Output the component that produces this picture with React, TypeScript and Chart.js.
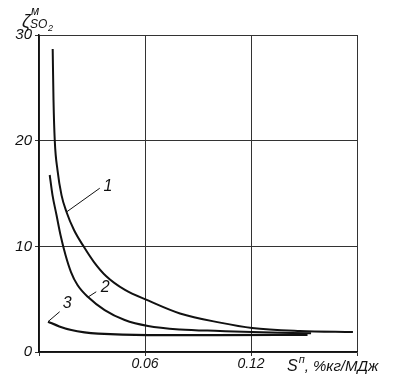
import React, { useEffect, useRef } from 'react';
import { Chart, registerables } from 'chart.js';

Chart.register(...registerables);

// Curve 1
const curve1X = [0.00775, 0.00821, 0.00894, 0.01047, 0.01274, 0.01557, 0.01981, 0.02547, 0.03113, 0.03792, 0.04868, 0.0617, 0.0798, 0.1025, 0.1206, 0.1477, 0.1777];
const curve1Y = [28.67, 23.84, 19.96, 17.22, 14.85, 13.25, 11.54, 9.93, 8.51, 7.19, 5.87, 4.88, 3.65, 2.78, 2.27, 1.99, 1.89];
// Curve 2
const curve2X = [0.00606, 0.00764, 0.00991, 0.01217, 0.015, 0.01811, 0.02179, 0.02774, 0.03719, 0.04851, 0.0617, 0.0798, 0.1025, 0.1206, 0.154];
const curve2Y = [16.75, 14.85, 12.96, 11.07, 9.18, 7.57, 6.34, 5.2, 3.97, 3.03, 2.46, 2.13, 1.99, 1.89, 1.77];
// Curve 3
const curve3X = [0.0051, 0.0115, 0.0183, 0.0258, 0.0334, 0.0617, 0.1, 0.152];
const curve3Y = [2.87, 2.42, 2.08, 1.86, 1.74, 1.6, 1.6, 1.62];

// Axis ticks
const xTickLabels = ['0.06', '0.12'];
const yTickValues = [0, 10, 20, 30];

// Curve labels: text, leader start (on curve), leader end, text position
const curveLabels = ['1', '2', '3'];
const leaderStartX = [0.01557, 0.02774, 0.0051];
const leaderStartY = [13.25, 5.2, 2.87];
const leaderEndX = [0.0344, 0.0324, 0.0117];
const leaderEndY = [15.5, 5.7, 3.81];
const labelPosX = [0.039, 0.0375, 0.016];
const labelPosY = [15.7, 6.1, 4.6];

const FONT = '"Liberation Sans", "DejaVu Sans", sans-serif';

const pts = (xs: number[], ys: number[]) => xs.map((x, i) => ({ x, y: ys[i] }));

const overlay = {
  id: 'overlay',
  afterDatasetsDraw(chart: any) {
    const ctx = chart.ctx;
    const xs = chart.scales.x;
    const ys = chart.scales.y;
    ctx.save();
    ctx.strokeStyle = '#111';
    ctx.fillStyle = '#111';
    ctx.lineWidth = 1;
    for (let i = 0; i < curveLabels.length; i++) {
      ctx.beginPath();
      ctx.moveTo(xs.getPixelForValue(leaderStartX[i]), ys.getPixelForValue(leaderStartY[i]));
      ctx.lineTo(xs.getPixelForValue(leaderEndX[i]), ys.getPixelForValue(leaderEndY[i]));
      ctx.stroke();
      ctx.font = `italic 16px ${FONT}`;
      ctx.textAlign = 'center';
      ctx.textBaseline = 'middle';
      ctx.fillText(curveLabels[i], xs.getPixelForValue(labelPosX[i]), ys.getPixelForValue(labelPosY[i]));
    }
    // x-axis title
    ctx.font = `italic 16px ${FONT}`;
    ctx.textAlign = 'left';
    ctx.textBaseline = 'middle';
    const bx = xs.getPixelForValue(0.12) + 36;
    const by = chart.chartArea.bottom + 14;
    ctx.fillText('S', bx, by + 1);
    const sw = ctx.measureText('S').width;
    ctx.font = `italic 11px ${FONT}`;
    ctx.fillText('п', bx + sw + 1, by - 6);
    ctx.font = `italic 15px ${FONT}`;
    ctx.fillText(', %кг/МДж', bx + sw + 7, by + 1);
    // y-axis title
    const lx = chart.chartArea.left - 17;
    const ty = chart.chartArea.top - 13;
    ctx.font = `italic 18px ${FONT}`;
    ctx.fillText('ζ', lx, ty);
    ctx.font = `italic 12px ${FONT}`;
    ctx.fillText('м', lx + 9, ty - 10);
    ctx.fillText('SO', lx + 8, ty + 3);
    ctx.font = `italic 9px ${FONT}`;
    ctx.fillText('2', lx + 26, ty + 6);
    ctx.restore();
  },
};

export default function App() {
  const ref = useRef<HTMLCanvasElement | null>(null);
  useEffect(() => {
    if (!ref.current) return;
    const line = (data: any, w: number) => ({
      data,
      borderColor: '#111',
      borderWidth: w,
      pointRadius: 0,
      fill: false,
      cubicInterpolationMode: 'monotone' as const,
      tension: 0.4,
    });
    const chart = new Chart(ref.current, {
      type: 'line',
      data: {
        datasets: [
          line(pts(curve1X, curve1Y), 2),
          line(pts(curve2X, curve2Y), 2),
          line(pts(curve3X, curve3Y), 2.2),
        ],
      },
      options: {
        animation: false,
        responsive: false,
        parsing: false as any,
        layout: { padding: { top: 35, right: 40, left: 0, bottom: 0 } },
        plugins: { legend: { display: false }, tooltip: { enabled: false } },
        scales: {
          x: {
            type: 'linear',
            min: 0,
            max: 0.18,
            ticks: {
              stepSize: 0.06,
              autoSkip: false,
              maxRotation: 0,
              padding: 0,
              color: '#111',
              font: { family: FONT, size: 14, style: 'italic' },
              callback: (v: any) => {
                const s = Number(v).toFixed(2);
                return xTickLabels.includes(s) ? s : '';
              },
            },
            grid: { color: '#333', lineWidth: 1, tickLength: 4, drawTicks: true },
            border: { color: '#111', width: 1.5 },
            afterFit: (s: any) => { s.height = 26; },
          },
          y: {
            type: 'linear',
            min: 0,
            max: 30,
            afterBuildTicks: (s: any) => { s.ticks = yTickValues.map((v) => ({ value: v })); },
            ticks: {
              padding: 3,
              color: '#111',
              font: { family: FONT, size: 15, style: 'italic' },
            },
            grid: { color: '#333', lineWidth: 1, tickLength: 4, drawTicks: true },
            border: { color: '#111', width: 1.5 },
            afterFit: (s: any) => { s.width = 39; },
          },
        },
      },
      plugins: [overlay],
    });
    return () => chart.destroy();
  }, []);
  return (
    <div style={{ position: 'absolute', left: 0, top: 0, width: 397, height: 378, background: '#fff' }}>
      <canvas ref={ref} width={397} height={378} style={{ display: 'block' }} />
    </div>
  );
}
